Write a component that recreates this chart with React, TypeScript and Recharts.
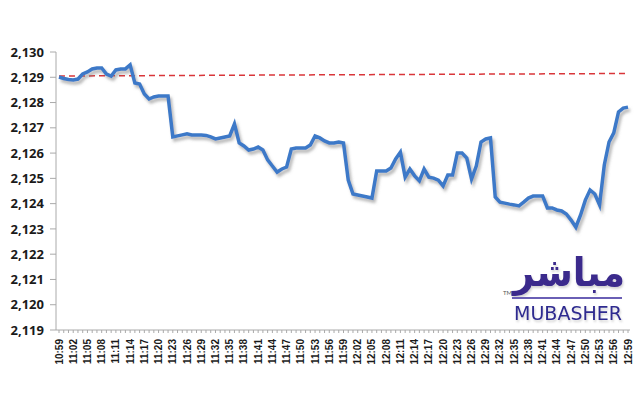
import { LineChart, Line, XAxis, YAxis, ReferenceLine } from 'recharts';

// minute-by-minute index readings, 10:59 -> 12:59
const times = [
  '10:59', '11:00', '11:01', '11:02', '11:03', '11:04', '11:05', '11:06', '11:07', '11:08', '11:09',
  '11:10', '11:11', '11:12', '11:13', '11:14', '11:15', '11:16', '11:17', '11:18', '11:19',
  '11:20', '11:21', '11:22', '11:23', '11:24', '11:25', '11:26', '11:27', '11:28', '11:29',
  '11:30', '11:31', '11:32', '11:33', '11:34', '11:35', '11:36', '11:37', '11:38', '11:39',
  '11:40', '11:41', '11:42', '11:43', '11:44', '11:45', '11:46', '11:47', '11:48', '11:49',
  '11:50', '11:51', '11:52', '11:53', '11:54', '11:55', '11:56', '11:57', '11:58', '11:59',
  '12:00', '12:01', '12:02', '12:03', '12:04', '12:05', '12:06', '12:07', '12:08', '12:09',
  '12:10', '12:11', '12:12', '12:13', '12:14', '12:15', '12:16', '12:17', '12:18', '12:19',
  '12:20', '12:21', '12:22', '12:23', '12:24', '12:25', '12:26', '12:27', '12:28', '12:29',
  '12:30', '12:31', '12:32', '12:33', '12:34', '12:35', '12:36', '12:37', '12:38', '12:39',
  '12:40', '12:41', '12:42', '12:43', '12:44', '12:45', '12:46', '12:47', '12:48', '12:49',
  '12:50', '12:51', '12:52', '12:53', '12:54', '12:55', '12:56', '12:57', '12:58', '12:59',
];

const prices = [
  2129.01, 2128.95, 2128.91, 2128.89, 2128.93, 2129.13, 2129.21, 2129.33, 2129.37, 2129.37, 2129.13,
  2129.05, 2129.29, 2129.33, 2129.33, 2129.49, 2128.77, 2128.73, 2128.34, 2128.14, 2128.22,
  2128.26, 2128.26, 2128.26, 2126.64, 2126.68, 2126.72, 2126.76, 2126.72, 2126.72, 2126.72,
  2126.70, 2126.64, 2126.56, 2126.60, 2126.64, 2126.68, 2127.15, 2126.40, 2126.28, 2126.12,
  2126.16, 2126.24, 2126.12, 2125.73, 2125.49, 2125.25, 2125.37, 2125.45, 2126.16, 2126.20,
  2126.20, 2126.20, 2126.32, 2126.68, 2126.60, 2126.48, 2126.40, 2126.40, 2126.44, 2126.40,
  2124.93, 2124.38, 2124.34, 2124.30, 2124.26, 2124.22, 2125.29, 2125.29, 2125.29, 2125.41,
  2125.77, 2126.04, 2125.05, 2125.37, 2125.10, 2124.90, 2125.37, 2125.05, 2125.01, 2124.93,
  2124.70, 2125.13, 2125.13, 2126.00, 2126.00, 2125.80, 2124.97, 2125.49, 2126.44, 2126.56,
  2126.60, 2124.26, 2124.06, 2124.02, 2123.98, 2123.95, 2123.91, 2124.06, 2124.22, 2124.30,
  2124.30, 2124.30, 2123.83, 2123.83, 2123.75, 2123.71, 2123.59, 2123.35, 2123.07, 2123.55,
  2124.14, 2124.54, 2124.38, 2123.95, 2125.53, 2126.44, 2126.80, 2127.63, 2127.78, 2127.82,
];

const yTicks = [2119, 2120, 2121, 2122, 2123, 2124, 2125, 2126, 2127, 2128, 2129, 2130];

// previous close line (drawn slightly sloped in the source)
const prevCloseStart = 2129.05;
const prevCloseEnd = 2129.15;

const data = times.map((t, i) => ({ time: t, price: prices[i] }));

const TimeTick = (props: any) => {
  const { x, y, payload, index } = props;
  if (index % 3 !== 0) return <g />;
  return (
    <text
      x={x}
      y={y + 4}
      transform={`rotate(-90 ${x} ${y + 4})`}
      textAnchor="end"
      dy="0.35em"
      fontSize={10}
      fontWeight={700}
      fontFamily="'Liberation Sans', Arial, sans-serif"
      fill="#1a1a1a"
    >
      {payload.value}
    </text>
  );
};

// watermark logo, bottom right (svg origin at x=440, y=230)
const Logo = () => (
  <svg width={198} height={100} style={{ position: 'absolute', left: 440, top: 230, pointerEvents: 'none' }}>
    <defs>
      <filter id="logoShadow" x="-10%" y="-10%" width="120%" height="130%">
        <feDropShadow dx="1" dy="2" stdDeviation="1.2" floodColor="#000" floodOpacity="0.18" />
      </filter>
    </defs>
    <text
      x={185}
      y={56}
      direction="rtl"
      textAnchor="start"
      fontFamily="'DejaVu Sans', sans-serif"
      fontWeight={700}
      fontSize={40}
      fill="#3b2a8c"
      textLength={112}
      lengthAdjust="spacingAndGlyphs"
      filter="url(#logoShadow)"
    >
      مباشر
    </text>
    <text x={63} y={65} fontSize={6} fill="#555" fontFamily="Lato, sans-serif">TM</text>
    <rect x={72} y={67} width={110} height={2} fill="#6a5fb5" />
    <text
      x={74}
      y={90}
      fontFamily="'DejaVu Sans', sans-serif"
      fontSize={19}
      fill="#2f2c8f"
      textLength={108}
      lengthAdjust="spacingAndGlyphs"
      filter="url(#logoShadow)"
    >
      MUBASHER
    </text>
  </svg>
);

export default function App() {
  return (
    <div style={{ position: 'absolute', left: 0, top: 0, width: 640, height: 400, background: '#fff' }}>
      <LineChart width={640} height={400} data={data} margin={{ top: 52, right: 10, bottom: 10, left: 0 }}>
        <defs>
          <filter id="lineShadow" x="-5%" y="-5%" width="110%" height="120%">
            <feDropShadow dx="2" dy="3" stdDeviation="1.5" floodColor="#777" floodOpacity="0.55" />
          </filter>
        </defs>
        <XAxis
          dataKey="time"
          interval={0}
          height={60}
          padding={{ left: 3, right: 2 }}
          tick={<TimeTick />}
          tickSize={3}
          stroke="#aaa"
          tickLine={{ stroke: '#aaa' }}
          axisLine={{ stroke: '#aaa' }}
        />
        <YAxis
          domain={[2119, 2130]}
          ticks={yTicks}
          width={56}
          tickSize={6}
          tickMargin={6}
          stroke="#aaa"
          tickFormatter={(v: number) => v.toLocaleString('en-US')}
          tick={{ fontSize: 13, fontWeight: 700, fill: '#1a1a1a', fontFamily: "'Open Sans', sans-serif" }}
        />
        <ReferenceLine
          segment={[
            { x: times[0], y: prevCloseStart },
            { x: times[times.length - 1], y: prevCloseEnd },
          ]}
          stroke="#d9363a"
          strokeWidth={1.5}
          strokeDasharray="6 4"
        />
        <Line
          type="linear"
          dataKey="price"
          stroke="#3c79c8"
          strokeWidth={3.5}
          dot={false}
          filter="url(#lineShadow)"
          isAnimationActive={false}
        />
      </LineChart>
      <Logo />
    </div>
  );
}
